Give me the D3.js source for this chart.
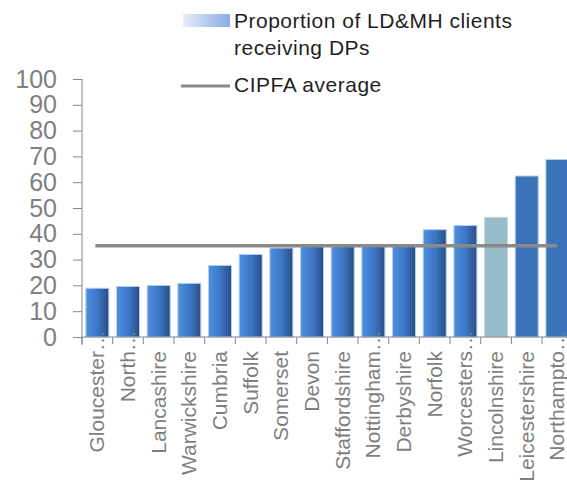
<!DOCTYPE html>
<html>
<head>
<meta charset="utf-8">
<script src="https://cdn.jsdelivr.net/npm/d3@7"></script>
<style>
  body { margin: 0; background: #fff; }
  svg { display: block; }
</style>
</head>
<body>
<svg id="chart"></svg>
<script>
// data
var counties = ["Gloucester\u2026", "North\u2026", "Lancashire", "Warwickshire", "Cumbria", "Suffolk",
                "Somerset", "Devon", "Staffordshire", "Nottingham\u2026", "Derbyshire", "Norfolk",
                "Worcesters\u2026", "Lincolnshire", "Leicestershire", "Northampto\u2026"];
var proportion = [18.9, 19.6, 20.0, 20.8, 27.7, 32.0, 34.5, 35.2, 35.3, 35.4, 35.5, 41.6, 43.2, 46.4, 62.4, 68.8];
var barStyle = ["grad", "grad", "grad", "grad", "grad", "grad", "grad", "grad", "grad", "grad", "grad",
                "grad", "grad", "light", "flat", "flat"];
var cipfaAverage = 35.4;
var yTicks = [0, 10, 20, 30, 40, 50, 60, 70, 80, 90, 100];

var width = 567, height = 481;
var margin = { top: 79, left: 82, bottom: 144 };
var plotH = height - margin.top - margin.bottom; // 258

var svg = d3.select("#chart")
    .attr("width", width)
    .attr("height", height);

var defs = svg.append("defs");

var g1 = defs.append("linearGradient").attr("id", "barGrad")
    .attr("x1", "0%").attr("x2", "100%").attr("y1", "0%").attr("y2", "0%");
g1.append("stop").attr("offset", "0%").attr("stop-color", "#4f90e0");
g1.append("stop").attr("offset", "55%").attr("stop-color", "#3b74c2");
g1.append("stop").attr("offset", "100%").attr("stop-color", "#294d82");

var g2 = defs.append("linearGradient").attr("id", "legGrad")
    .attr("x1", "0%").attr("x2", "100%").attr("y1", "0%").attr("y2", "0%");
g2.append("stop").attr("offset", "0%").attr("stop-color", "#e6eef9");
g2.append("stop").attr("offset", "100%").attr("stop-color", "#8aabe4");

var x = d3.scaleBand()
    .domain(counties)
    .range([margin.left, margin.left + 16 * 30.67])
    .paddingInner(0.25)
    .paddingOuter(0.125);

var y = d3.scaleLinear()
    .domain([0, 100])
    .range([margin.top + plotH, margin.top]);

var gray = "#868686";

// y axis
var yAxis = svg.append("g")
    .attr("transform", "translate(" + margin.left + ",0)")
    .call(d3.axisLeft(y).tickValues(yTicks).tickSize(9).tickPadding(16));
yAxis.select(".domain").remove();
yAxis.selectAll(".tick line").attr("stroke", gray);
yAxis.selectAll(".tick text")
    .attr("fill", "#808080")
    .attr("font-family", "Liberation Sans, Arial, sans-serif")
    .attr("font-size", "25px");

svg.append("line")
    .attr("x1", margin.left).attr("x2", margin.left)
    .attr("y1", y(100)).attr("y2", y(0) + 8)
    .attr("stroke", gray);

// bars
svg.append("g").selectAll("rect")
    .data(counties)
    .enter().append("rect")
    .attr("x", function(d) { return x(d); })
    .attr("width", x.bandwidth())
    .attr("y", function(d, i) { return y(proportion[i]); })
    .attr("height", function(d, i) { return y(0) - y(proportion[i]); })
    .attr("fill", function(d, i) {
        if (barStyle[i] == "light") return "#97bcc7";
        if (barStyle[i] == "flat") return "#3b73b9";
        return "url(#barGrad)";
    })
    .attr("stroke", function(d, i) { return barStyle[i] == "light" ? "#c5dbe2" : "#b7cdee"; })
    .attr("stroke-width", 1);

// x axis baseline + category separators
svg.append("line")
    .attr("x1", margin.left).attr("x2", width)
    .attr("y1", y(0)).attr("y2", y(0))
    .attr("stroke", gray);

var step = x.step();
svg.append("g").selectAll("line")
    .data(counties)
    .enter().append("line")
    .attr("x1", function(d) { return x(d) - step * 0.125; })
    .attr("x2", function(d) { return x(d) - step * 0.125; })
    .attr("y1", y(0))
    .attr("y2", y(0) + 7)
    .attr("stroke", gray);

// x labels, rotated
var ellW = 21;
svg.append("g").selectAll("text")
    .data(counties)
    .enter().append("text")
    .attr("transform", function(d) {
        var cx = x(d) + x.bandwidth() / 2 + 7;
        var top = d.slice(-1) == "\u2026" ? 351 - ellW : 351;
        return "translate(" + cx + "," + top + ") rotate(-90)";
    })
    .attr("text-anchor", "end")
    .attr("fill", "#7f7f7f")
    .attr("font-family", "Liberation Sans, Arial, sans-serif")
    .attr("font-size", "21px")
    .text(function(d) { return d; });

// CIPFA average line
svg.append("line")
    .attr("x1", x(counties[0]) + x.bandwidth() / 2 - 2)
    .attr("x2", x(counties[counties.length - 1]) + x.bandwidth() / 2)
    .attr("y1", y(cipfaAverage)).attr("y2", y(cipfaAverage))
    .attr("stroke", "#8a8a8a")
    .attr("stroke-width", 3.5);

// legend
var leg = svg.append("g")
    .attr("font-family", "Liberation Sans, Arial, sans-serif")
    .attr("font-size", "21px")
    .attr("letter-spacing", "0.5px")
    .attr("fill", "#1f1f1f");

leg.append("rect")
    .attr("x", 183).attr("y", 14)
    .attr("width", 47).attr("height", 13)
    .attr("fill", "url(#legGrad)");

leg.append("text").attr("x", 234).attr("y", 28).text("Proportion of LD&MH clients");
leg.append("text").attr("x", 234).attr("y", 55).text("receiving DPs");

leg.append("line")
    .attr("x1", 181).attr("x2", 230)
    .attr("y1", 86).attr("y2", 86)
    .attr("stroke", "#8a8a8a")
    .attr("stroke-width", 3);

leg.append("text").attr("x", 234).attr("y", 92).text("CIPFA average");
</script>
</body>
</html>
